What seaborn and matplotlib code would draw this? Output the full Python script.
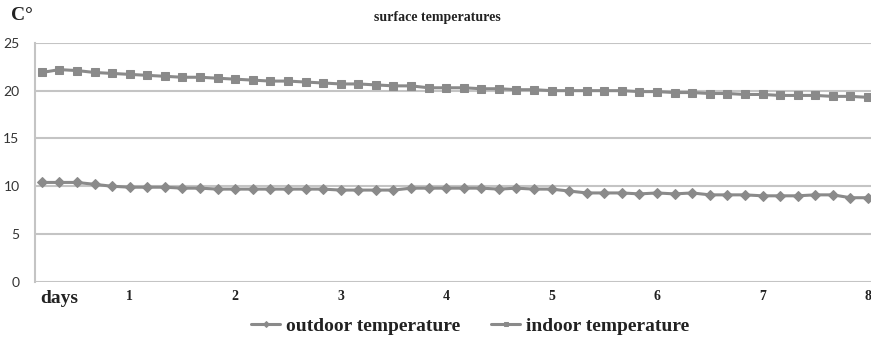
import numpy as np
import pandas as pd
import matplotlib
matplotlib.use('Agg')
import matplotlib.pyplot as plt
from matplotlib.font_manager import FontProperties
import seaborn as sns

# readings every 4 hours over 8 days
steps = np.arange(1, 49)
days = steps / 6

outdoor = [10.4, 10.4, 10.4, 10.2, 10.0, 9.9, 9.9, 9.9, 9.8, 9.8, 9.7, 9.7,
           9.7, 9.7, 9.7, 9.7, 9.7, 9.6, 9.6, 9.6, 9.6, 9.8, 9.8, 9.8,
           9.8, 9.8, 9.7, 9.8, 9.7, 9.7, 9.5, 9.3, 9.3, 9.3, 9.2, 9.3,
           9.2, 9.3, 9.1, 9.1, 9.1, 9.0, 9.0, 9.0, 9.1, 9.1, 8.8, 8.8]
indoor = [21.9, 22.2, 22.1, 21.9, 21.8, 21.7, 21.6, 21.5, 21.4, 21.4, 21.3, 21.2,
          21.1, 21.0, 21.0, 20.9, 20.8, 20.7, 20.7, 20.6, 20.5, 20.5, 20.3, 20.3,
          20.3, 20.2, 20.2, 20.1, 20.1, 20.0, 20.0, 20.0, 20.0, 20.0, 19.9, 19.9,
          19.8, 19.8, 19.7, 19.7, 19.6, 19.6, 19.5, 19.5, 19.5, 19.4, 19.4, 19.3]

day_ticks = [1, 2, 3, 4, 5, 6, 7, 8]
y_ticks = [0, 5, 10, 15, 20, 25]

sns.set_style('white')
serif = ['Liberation Serif', 'DejaVu Serif']

fig = plt.figure(figsize=(8.71, 3.4), dpi=100)
ax = fig.add_axes([0.040, 0.171, 0.965, 0.703])

ax.grid(axis='y', color='#c4c4c4', linewidth=1.5)
ax.set_axisbelow(True)

sns.lineplot(x=days, y=outdoor, ax=ax, color='#8a8a8a', linewidth=2.2,
             marker='D', markersize=5, markeredgecolor='#8a8a8a',
             label='outdoor temperature')
sns.lineplot(x=days, y=indoor, ax=ax, color='#8a8a8a', linewidth=2.2,
             marker='s', markersize=6, markeredgecolor='#8a8a8a',
             label='indoor temperature')

ax.set_xlim(0.1, 8.07)
ax.set_ylim(0, 25)
ax.set_yticks(y_ticks)
ax.set_yticklabels([str(v) for v in y_ticks], family='Lato', fontsize=10, color='#333333')
ax.set_xticks([0.33] + day_ticks)
ax.set_xticklabels(['days'] + [str(d) for d in day_ticks], family=serif,
                   fontweight='bold', fontsize=10, color='#222222')
ax.get_xticklabels()[0].set_fontsize(14)
ax.tick_params(axis='both', length=0, pad=6)
ax.tick_params(axis='y', pad=11)

for side in ['top', 'right', 'bottom']:
    ax.spines[side].set_visible(False)
ax.spines['left'].set_color('#c4c4c4')
ax.spines['left'].set_linewidth(1.5)

fig.text(0.502, 0.95, 'surface temperatures', ha='center', va='center',
         family=serif, fontweight='bold', fontsize=10, color='#222222')
fig.text(0.013, 0.955, 'C°', ha='left', va='center',
         family=serif, fontweight='bold', fontsize=14, color='#222222')

legend_font = FontProperties(family='Liberation Serif', weight='bold', size=14)
leg = ax.legend(loc='center', bbox_to_anchor=(0.518, -0.185), ncol=2, frameon=False,
                prop=legend_font, markerscale=0.6,
                handlelength=1.5, handletextpad=0.3, columnspacing=1.6, borderaxespad=0)
for t in leg.get_texts():
    t.set_color('#222222')

fig.savefig('out.png', dpi=100)
